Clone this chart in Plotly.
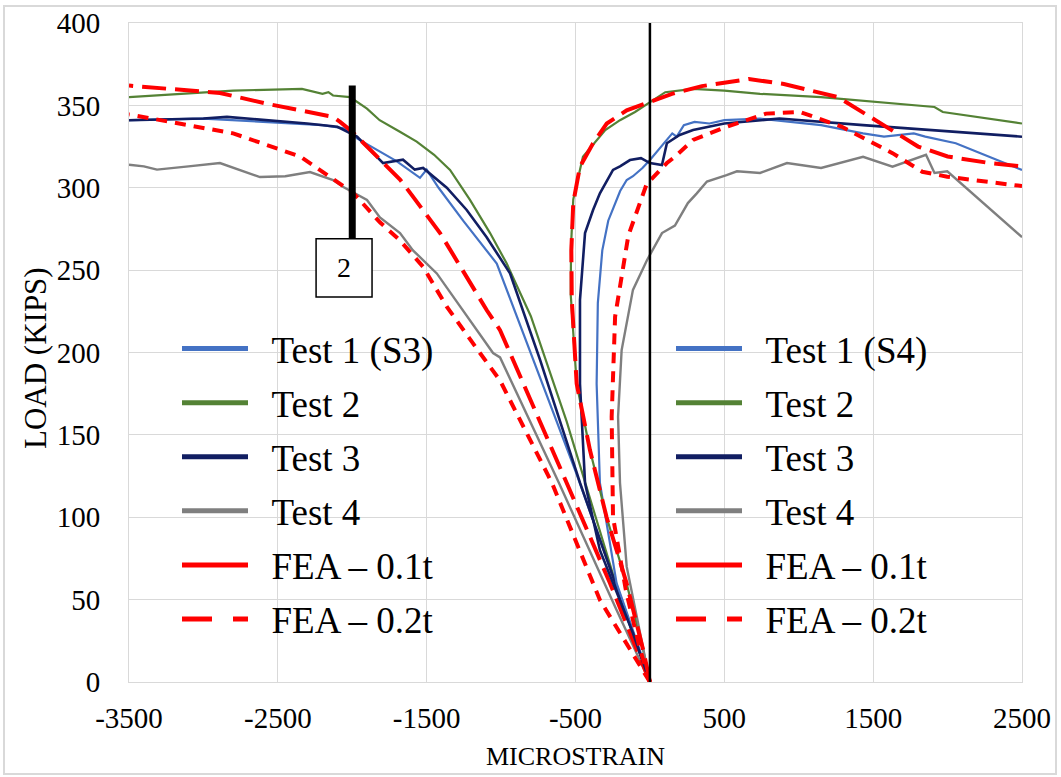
import plotly.graph_objects as go

# ---------------- data (microstrain, kips) ----------------
t1_s3_x = [0, -200, -500, -785, -1029, -1255, -1420, -1500, -1545, -1700, -1814, -1900, -1968, -2050, -2200, -2600, -3000, -3500]
t1_s3_y = [0, 52, 128, 195.5, 254, 280, 300, 311, 306, 316, 322, 326, 330, 336, 338, 340, 342, 341]

t2_s3_x = [0, -250, -559, -800, -962, -1074, -1209, -1343, -1450, -1567, -1680, -1816, -1901, -1950, -2015, -2129, -2160, -2200, -2338, -2800, -3500]
t2_s3_y = [0, 66, 158, 222, 254, 272.5, 292.6, 310.8, 320, 328, 334, 341, 348, 351, 355, 356, 358, 357, 360, 359, 355]

t3_s3_x = [0, -200, -470, -738, -940, -1097, -1231, -1365, -1524, -1580, -1659, -1793, -1968, -2100, -2304, -2842, -3000, -3500]
t3_s3_y = [0, 52, 121, 195.5, 248, 270, 286.5, 300, 312, 311, 317, 315, 331, 337, 339, 343, 342, 341]

t4_s3_x = [0, -224, -611, -1007, -1054, -1255, -1432, -1592, -1679, -1814, -1901, -2060, -2129, -2284, -2450, -2620, -2700, -2889, -3100, -3312, -3400, -3500]
t4_s3_y = [0, 43.7, 120.8, 197, 199.7, 225.8, 248, 262, 272.5, 282, 292.6, 300.5, 304.7, 309.5, 307, 306.5, 309, 315, 313, 311, 313, 314]

fea1_s3_x = [0, -268, -559, -1007, -1097, -1231, -1410, -1592, -1679, -1790, -1901, -2000, -2082, -2129, -2573, -2889, -3500]
fea1_s3_y = [0, 60, 120.8, 213.6, 225.8, 246, 272.5, 294.6, 305, 315, 325, 334, 340, 343, 351, 357.5, 362]

fea2_s3_x = [0, -336, -658, -1007, -1142, -1365, -1524, -1679, -1814, -1995, -2351, -2800, -3500]
fea2_s3_y = [0, 49.8, 120.8, 183, 199.7, 227.8, 252, 268, 279, 297, 319, 333, 344.5]

t1_s4_x = [0, -67, -224, -336, -358, -350, -320, -280, -200, -156, -114, -50, 0, 114, 150, 180, 228, 300, 400, 500, 740, 1150, 1432, 1573, 1773, 1850, 2055, 2300, 2500]
t1_s4_y = [0, 19, 60, 120.8, 181, 230, 262, 280, 298, 304.7, 307, 312, 316.8, 329, 333, 331, 338, 340, 339, 341, 342, 338, 333, 331, 333, 331, 327, 318, 310.8]

t2_s4_x = [0, -44, -157, -291, -403, -492, -532, -530, -515, -450, -300, -201, -100, 0, 103, 290, 500, 740, 1150, 1912, 1968, 2500]
t2_s4_y = [0, 19, 60, 100, 140.8, 181, 235, 265, 293, 318.8, 335, 341, 346, 352, 358, 360, 359, 357, 355, 349, 346, 339]

t3_s4_x = [0, -114, -336, -436, -470, -470, -436, -382, -336, -248, -201, -134, -60, 0, 81, 114, 200, 290, 500, 740, 870, 1432, 2500]
t3_s4_y = [0, 29.7, 80, 120.8, 181, 231.9, 272.5, 286.5, 296.6, 310.8, 313, 316.8, 318, 315, 313.8, 327, 332, 335, 339, 341, 342, 338, 331]

t4_s4_x = [0, -44, -156, -201, -214, -190, -114, -20, 81, 168, 255, 315, 383, 515, 585, 740, 921, 1150, 1432, 1630, 1855, 1912, 1998, 2500]
t4_s4_y = [0, 19.4, 70, 120.8, 161, 201.5, 238, 256, 272.5, 277, 290.7, 296.6, 303.8, 307.7, 310, 309, 315, 312, 318.8, 312.8, 320, 309, 310, 270]

fea1_s4_x = [0, -44, -157, -291, -403, -492, -525, -528, -515, -470, -382, -290, -156, 0, 148, 349, 665, 900, 1263, 1516, 1802, 2000, 2282, 2500]
fea1_s4_y = [0, 19, 60, 100, 140.8, 181, 232, 262, 291, 312.8, 327, 339, 347, 352, 357, 361.7, 366, 363, 355, 341, 325, 319, 315, 313]

fea2_s4_x = [0, -67, -160, -248, -257, -234, -145, -23, 114, 168, 290, 515, 780, 1009, 1290, 1630, 1830, 1998, 2500]
fea2_s4_y = [0, 20, 55, 100, 161, 221.7, 271, 302, 315, 318.8, 329, 337, 345, 346, 337, 321, 309.7, 306.7, 301]

names_s3 = ["Test 1 (S3)", "Test 2", "Test 3", "Test 4", "FEA \u2013 0.1t", "FEA \u2013 0.2t"]
names_s4 = ["Test 1 (S4)", "Test 2", "Test 3", "Test 4", "FEA \u2013 0.1t", "FEA \u2013 0.2t"]

x_ticks = [-3500, -2500, -1500, -500, 500, 1500, 2500]
x_tick_labels = ["-3500", "-2500", "-1500", "-500", "500", "1500", "2500"]

# callout "2" location (data units)
callout_x = -2000
callout_top = 362
box_x0, box_x1 = -2243, -1867
box_y0, box_y1 = 233.7, 269

# ---------------- styles ----------------
FONT = "Liberation Serif"
colors = ["#4472C4", "#548235", "#111E62", "#7F7F7F", "#FF0000", "#FF0000"]
widths = [2.2, 2.2, 2.6, 2.4, 4, 4]
dashes = ["solid", "solid", "solid", "solid", "24px,9px", "11px,8px"]
legend_dashes = ["solid", "solid", "solid", "solid", "solid", "30px,21px,15px,30px"]
LEGEND_LINE_W = 5

s3 = [(t1_s3_x, t1_s3_y), (t2_s3_x, t2_s3_y), (t3_s3_x, t3_s3_y), (t4_s3_x, t4_s3_y), (fea1_s3_x, fea1_s3_y), (fea2_s3_x, fea2_s3_y)]
s4 = [(t1_s4_x, t1_s4_y), (t2_s4_x, t2_s4_y), (t3_s4_x, t3_s4_y), (t4_s4_x, t4_s4_y), (fea1_s4_x, fea1_s4_y), (fea2_s4_x, fea2_s4_y)]

PAD = "\u00a0\u00a0"
fig = go.Figure()
for grp, series, names, leg in (("a", s3, names_s3, "legend"), ("b", s4, names_s4, "legend2")):
    for i, (xs, ys) in enumerate(series):
        # the data curve
        fig.add_trace(go.Scatter(x=xs, y=ys, mode="lines", name=names[i], showlegend=False,
                                 legendgroup="%s%d" % (grp, i), hoverinfo="x+y+name",
                                 line=dict(color=colors[i], width=widths[i], dash=dashes[i])))
        # legend entry (thicker swatch, as in the original legend)
        fig.add_trace(go.Scatter(x=[None], y=[None], mode="lines", name=PAD + names[i], legend=leg,
                                 legendgroup="%s%d" % (grp, i), showlegend=True, hoverinfo="skip",
                                 line=dict(color=colors[i], width=LEGEND_LINE_W, dash=legend_dashes[i])))

# page layout (body margin removed by post_script, so page px == figure px)
W, H = 1061, 777
PLOT_L, PLOT_R, PLOT_T, PLOT_B = 129, 1022, 23, 682
L, T, R, B = PLOT_L, PLOT_T, W - PLOT_R, H - PLOT_B
pw, ph = PLOT_R - PLOT_L, PLOT_B - PLOT_T

def px2paper_x(px):
    return (px - PLOT_L) / pw

def px2paper_y(py):
    return (PLOT_B - py) / ph

legend_common = dict(font=dict(family=FONT, size=37, color="black"), bgcolor="rgba(0,0,0,0)",
                     tracegroupgap=3, itemwidth=66, xanchor="left", yanchor="top",
                     traceorder="grouped", itemclick=False, itemdoubleclick=False)

fig.update_layout(
    width=W, height=H,
    margin=dict(l=L, r=R, t=T, b=B, autoexpand=False),
    paper_bgcolor="white", plot_bgcolor="white",
    font=dict(family=FONT, color="black"),
    showlegend=True,
    legend=dict(x=px2paper_x(177), y=px2paper_y(318), **legend_common),
    legend2=dict(x=px2paper_x(671), y=px2paper_y(318), **legend_common),
    xaxis=dict(range=[-3500, 2500], tickvals=x_ticks, ticktext=x_tick_labels, showgrid=True,
               gridcolor="#D9D9D9", gridwidth=1, automargin=False, ticklabeloverflow="allow",
               zeroline=False, showline=True, mirror=True, linecolor="#D9D9D9", linewidth=1,
               tickfont=dict(family=FONT, size=29, color="black"), ticklabelstandoff=10,
               title=dict(text="MICROSTRAIN", font=dict(family=FONT, size=26, color="black"), standoff=14)),
    yaxis=dict(range=[0, 400], dtick=50, showgrid=True, gridcolor="#D9D9D9", gridwidth=1, automargin=False,
               ticklabeloverflow="allow",
               zeroline=False, showline=True, mirror=True, linecolor="#D9D9D9", linewidth=1,
               tickfont=dict(family=FONT, size=29, color="black"), ticklabelstandoff=22),
)

# y axis title placed at the reference position
fig.add_annotation(text="LOAD (KIPS)", textangle=-90, xref="paper", yref="paper",
                   x=px2paper_x(35), y=px2paper_y(358), xanchor="center", yanchor="middle",
                   showarrow=False, font=dict(family=FONT, size=31, color="black"))

# vertical reference line at zero strain
fig.add_shape(type="line", x0=0, x1=0, y0=0, y1=400, xref="x", yref="y",
              line=dict(color="black", width=2.5))
# callout "2"
fig.add_shape(type="line", x0=callout_x, x1=callout_x, y0=box_y1, y1=callout_top, xref="x", yref="y",
              line=dict(color="black", width=7))
fig.add_shape(type="rect", x0=box_x0, x1=box_x1, y0=box_y0, y1=box_y1, xref="x", yref="y",
              line=dict(color="black", width=1.5), fillcolor="white")
fig.add_annotation(x=(box_x0 + box_x1) / 2, y=(box_y0 + box_y1) / 2, xref="x", yref="y", text="2",
                   showarrow=False, font=dict(family=FONT, size=28, color="black"))
# outer frame
fig.add_shape(type="rect", xref="paper", yref="paper",
              x0=px2paper_x(4), x1=px2paper_x(1056), y0=px2paper_y(774), y1=px2paper_y(6),
              line=dict(color="#D9D9D9", width=2), layer="below")

fig.write_html("out.html", config={"displayModeBar": False},
               post_script="document.body.style.margin='0px';document.body.style.padding='0px';"
                           "document.body.style.overflow='hidden';")
